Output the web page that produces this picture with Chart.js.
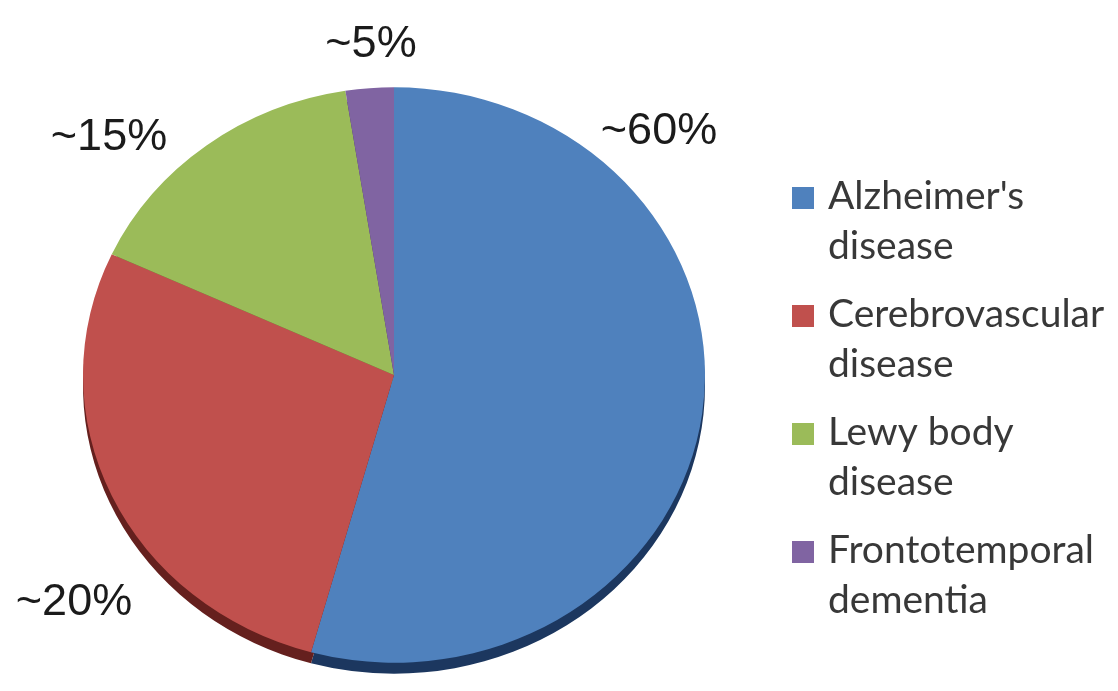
<!DOCTYPE html>
<html>
<head>
<meta charset="utf-8">
<script src="https://cdn.jsdelivr.net/npm/chart.js@4/dist/chart.umd.min.js"></script>
<style>
    html, body { margin: 0; padding: 0; background: #fff; }
    .wrap { width: 1118px; height: 691px; position: relative; }
</style>
</head>
<body>
<div class="wrap"><canvas id="canvasPie"></canvas></div>
<script>
/*///////////////////////////////////////////////////////////
資料
///////////////////////////////////////////////////////////*/
var labels = [["Alzheimer's", "disease"], ["Cerebrovascular", "disease"], ["Lewy body", "disease"], ["Frontotemporal", "dementia"]];
var shares = [54.3, 27.6, 15.6, 2.5];
// the text written next to the pie
var shareText = ["~60%", "~20%", "~15%", "~5%"];
var colors = ["#4F81BD", "#C0504D", "#9BBB59", "#8064A2"];
var rimColors = ["#1C375F", "#65201E", "#55702A", "#44305F"];

/*///////////////////////////////////////////////////////////
3D 傾斜 + 邊緣
///////////////////////////////////////////////////////////*/
var squash = 0.925;
var rimDepth = 11;

var tiltPlugin = {
    id: 'tilt',
    beforeDatasetsDraw: function (chart) {
        var ctx = chart.ctx;
        var arcs = chart.getDatasetMeta(0).data;
        var cx = arcs[0].x, cy = arcs[0].y;
        ctx.save();
        ctx.translate(cx, cy);
        ctx.scale(1, squash);
        ctx.translate(-cx, -cy);
        // darker side of the disc, peeking out under the top face
        var d = rimDepth / squash;
        arcs.forEach(function (a, i) {
            ctx.beginPath();
            ctx.moveTo(a.x, a.y + d);
            ctx.arc(a.x, a.y + d, a.outerRadius, a.startAngle, a.endAngle);
            ctx.closePath();
            ctx.fillStyle = rimColors[i];
            ctx.fill();
        });
    },
    afterDatasetsDraw: function (chart) {
        chart.ctx.restore();
    }
};

/*///////////////////////////////////////////////////////////
百分比文字 + 圖例
///////////////////////////////////////////////////////////*/
var textPlugin = {
    id: 'texts',
    afterDraw: function (chart) {
        var ctx = chart.ctx;
        var arcs = chart.getDatasetMeta(0).data;
        var cx = arcs[0].x, cy = arcs[0].y;
        // offsets of each label from the pie centre (text centre, baseline)
        var spots = [[265, -231], [-320, 240], [-285, -225], [-23, -318]];

        ctx.save();
        ctx.font = '45px "Liberation Sans", Arial, sans-serif';
        ctx.fillStyle = '#1b1b1b';
        ctx.textAlign = 'center';
        ctx.textBaseline = 'alphabetic';
        shareText.forEach(function (t, i) {
            ctx.fillText(t, cx + spots[i][0], cy + spots[i][1]);
        });

        // legend
        var lx = 792, ly = 209, box = 22, itemGap = 118, lineGap = 50;
        ctx.font = '39px Lato, "Open Sans", sans-serif';
        ctx.textAlign = 'left';
        chart.data.labels.forEach(function (lines, i) {
            var y = ly + i * itemGap;
            ctx.fillStyle = colors[i];
            ctx.fillRect(lx, y - box, box, box);
            ctx.fillStyle = '#383838';
            lines.forEach(function (s, k) {
                ctx.fillText(s, lx + 36, y + k * lineGap);
            });
        });
        ctx.restore();
    }
};

var ctx = document.getElementById('canvasPie').getContext('2d');
var pieChart = new Chart(ctx, {
    type: 'pie',
    data: {
        labels: labels,
        datasets: [{
            data: shares,
            backgroundColor: colors,
            borderWidth: 0
        }]
    },
    options: {
        responsive: true,
        maintainAspectRatio: false,
        animation: false,
        layout: { padding: { left: 82, right: 412, top: 64, bottom: 5 } },
        plugins: {
            legend: { display: false },
            tooltip: { enabled: false }
        },
        events: []
    },
    plugins: [tiltPlugin, textPlugin]
});
</script>
</body>
</html>
